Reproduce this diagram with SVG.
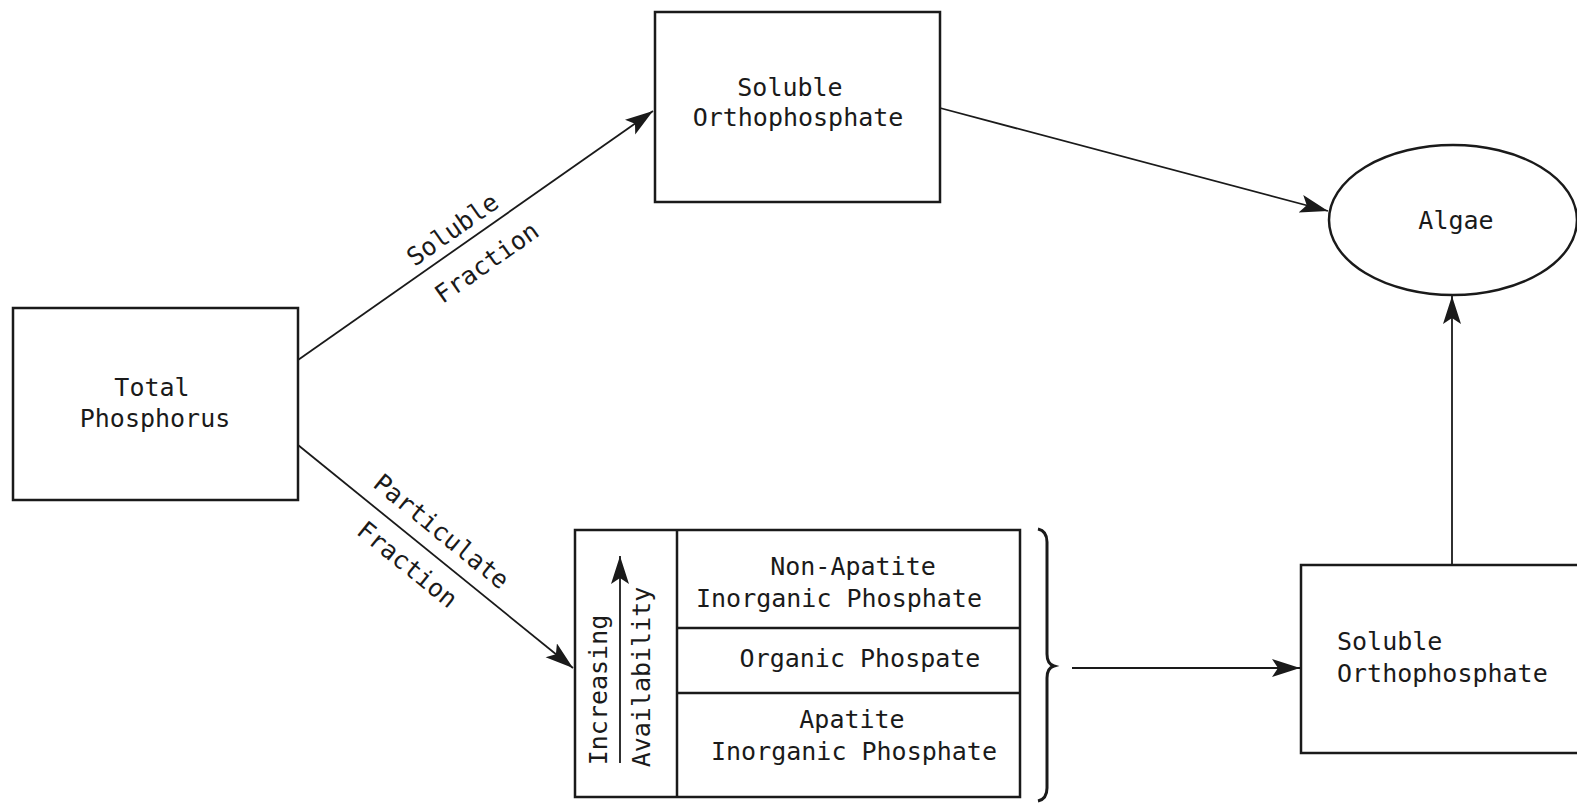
<svg xmlns="http://www.w3.org/2000/svg" width="1577" height="803" viewBox="0 0 1577 803">
  <defs>
    <marker id="arrow" markerUnits="userSpaceOnUse" markerWidth="30" markerHeight="20" refX="28" refY="9" orient="auto">
      <path d="M0,0 L28,9 L0,18 L6,9 Z" fill="#1a1a1a"/>
    </marker>
    <style>
      .box { fill: #ffffff; stroke: #1a1a1a; stroke-width: 2.5; }
      .line { fill: none; stroke: #1a1a1a; stroke-width: 1.8; }
      .lbl { font-family: "DejaVu Sans Mono", "Liberation Mono", monospace; font-size: 25px; fill: #1a1a1a; }
      .mid { text-anchor: middle; }
    </style>
  </defs>
  <rect width="1577" height="803" fill="#ffffff"/>

  <!-- connectors -->
  <g id="connectors">
    <line class="line" x1="298" y1="360" x2="653" y2="111" marker-end="url(#arrow)"/>
    <line class="line" x1="298" y1="445" x2="573" y2="668" marker-end="url(#arrow)"/>
    <line class="line" x1="940" y1="108" x2="1328" y2="211" marker-end="url(#arrow)"/>
    <line class="line" x1="1072" y1="668" x2="1300" y2="668" marker-end="url(#arrow)"/>
    <line class="line" x1="1452" y1="565" x2="1452" y2="296" marker-end="url(#arrow)"/>
    <!-- edge labels -->
    <g transform="translate(453,230) rotate(-35.2)"><text class="lbl mid" x="0" y="8">Soluble</text></g>
    <g transform="translate(487,263) rotate(-35.2)"><text class="lbl mid" x="0" y="8">Fraction</text></g>
    <g transform="translate(441,532) rotate(39)"><text class="lbl mid" x="0" y="8">Particulate</text></g>
    <g transform="translate(407,565) rotate(39)"><text class="lbl mid" x="0" y="8">Fraction</text></g>
  </g>

  <!-- Total Phosphorus -->
  <g id="total-phosphorus">
    <rect class="box" x="13" y="308" width="285" height="192"/>
    <text class="lbl mid" x="152" y="396">Total</text>
    <text class="lbl mid" x="155" y="427">Phosphorus</text>
  </g>

  <!-- Soluble Orthophosphate (top) -->
  <g id="soluble-ortho-top">
    <rect class="box" x="655" y="12" width="285" height="190"/>
    <text class="lbl mid" x="790" y="96">Soluble</text>
    <text class="lbl mid" x="798" y="126">Orthophosphate</text>
  </g>

  <!-- Algae -->
  <g id="algae">
    <ellipse class="box" cx="1453" cy="220" rx="124" ry="75"/>
    <text class="lbl mid" x="1456" y="229">Algae</text>
  </g>

  <!-- Particulate fractions table -->
  <g id="particulate-table">
    <rect class="box" x="575" y="530" width="445" height="267"/>
    <line class="line" x1="677" y1="530" x2="677" y2="797" style="stroke-width:2.5"/>
    <line class="line" x1="677" y1="628" x2="1020" y2="628" style="stroke-width:2.5"/>
    <line class="line" x1="677" y1="693" x2="1020" y2="693" style="stroke-width:2.5"/>
    <line class="line" x1="620" y1="763" x2="620" y2="556" marker-end="url(#arrow)"/>
    <g transform="translate(599,690) rotate(-90)"><text class="lbl mid" x="0" y="8">Increasing</text></g>
    <g transform="translate(642,677) rotate(-90)"><text class="lbl mid" x="0" y="8">Availability</text></g>
    <text class="lbl mid" x="853" y="575">Non-Apatite</text>
    <text class="lbl mid" x="839" y="607">Inorganic Phosphate</text>
    <text class="lbl mid" x="860" y="667">Organic Phospate</text>
    <text class="lbl mid" x="852" y="728">Apatite</text>
    <text class="lbl mid" x="854" y="760">Inorganic Phosphate</text>
    <path d="M1038,529 Q1047,531 1047,542 L1047,654 Q1047,664 1054,666 Q1047,668 1047,678 L1047,788 Q1047,799 1038,801" fill="none" stroke="#1a1a1a" stroke-width="3"/>
  </g>

  <!-- Soluble Orthophosphate (bottom) -->
  <g id="soluble-ortho-bottom">
    <rect class="box" x="1301" y="565" width="300" height="188"/>
    <text class="lbl" x="1337" y="650">Soluble</text>
    <text class="lbl" x="1337" y="682">Orthophosphate</text>
  </g>
</svg>
